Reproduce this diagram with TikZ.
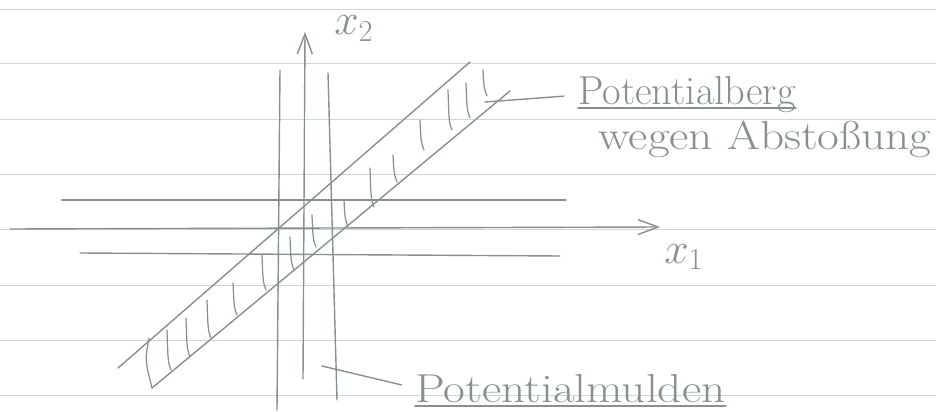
\documentclass[tikz,border=0pt]{standalone}
\usepackage{tikz}
\usetikzlibrary{positioning,arrows.meta}
\definecolor{pencil}{HTML}{86918F}
\definecolor{ruled}{HTML}{C9D6E6}
\tikzset{
  stroke/.style ={draw=pencil, line width=0.8pt, line cap=round},
  axis/.style   ={stroke, -{Straight Barb[length=4mm,width=3mm]}},
  hatch/.style  ={draw=pencil, line width=0.7pt, line cap=round},
  % pointer from the sketch to a label
  pointer/.style={stroke, shorten >=2.8mm},
  hand/.style   ={text=pencil, inner sep=0pt, font=\fontsize{23}{27}\selectfont},
  axlabel/.style={text=pencil, inner sep=0pt, anchor=base west,
                  font=\fontsize{24}{28}\selectfont},
  paperline/.style={draw=ruled, line width=0.5pt},
}
\begin{document}
\begin{tikzpicture}[x=0.2mm,y=-0.2mm]
\useasboundingbox (0,0) rectangle (936,412);
\foreach \y in {9,63,119,174,229,285,340,395}
  {\draw[paperline] (0,\y) -- (936,\y);}
% axes
\coordinate (o1) at (10,229);  \coordinate (e1) at (660,227);
\coordinate (o2) at (303,379); \coordinate (e2) at (305,32);
\draw[axis] (o1) -- (e1);
\draw[axis] (o2) -- (e2);
\node[axlabel] (lx1) at (664,263) {$x_1$};
\node[axlabel] (lx2) at (334,35)  {$x_2$};
% valleys along the axes
\coordinate (h1a) at (62,200);  \coordinate (h1b) at (566,200);
\coordinate (h2a) at (80,253);  \coordinate (h2b) at (560,256);
\coordinate (v1a) at (280,70);  \coordinate (v1b) at (277,410);
\coordinate (v2a) at (328,73);  \coordinate (v2b) at (337,400);
\draw[stroke] (h1a) -- (h1b);
\draw[stroke] (h2a) -- (h2b);
\draw[stroke] (v1a) -- (v1b);
\draw[stroke] (v2a) -- (v2b);
% ridge along the diagonal
\coordinate (ua) at (118,368); \coordinate (ub) at (470,62);
\coordinate (la) at (152,388); \coordinate (lb) at (510,91);
\draw[stroke] (ua) -- (ub);
\draw[stroke] (la) -- (lb);
\draw[hatch] (149,338) .. controls (145,360) .. (la);
\foreach \x/\a/\b in {168/330/370, 187/318/357, 208/300/338, 234/283/315,
    263/255/290, 291/237/270, 313/215/247, 345/200/227, 371/168/207,
    394/155/182, 421/120/150, 449/90/130, 467/83/118, 484/70/96}
  {\draw[hatch] (\x-1,\a) .. controls (\x,\b-8) .. (\x+3,\b);}
% labels
\node[hand,anchor=base west] (berg) at (578,105) {Potentialberg};
\node[hand,anchor=base west,xscale=1.17] (abst) at (598,150) {wegen Abstoßung};
\node[hand,anchor=base west,xscale=1.17] (mulden) at (415,402) {Potentialmulden};
\draw[stroke] ([yshift=-0.6mm]berg.base west) -- ([yshift=-0.6mm]berg.base east);
\draw[stroke] ([yshift=-0.8mm]mulden.base west) -- ([yshift=-0.8mm]mulden.base east);
\coordinate (bergtip) at (485,102);
\coordinate (muldtip) at (322,366);
\draw[pointer] (bergtip) -- (berg.west);
\draw[pointer] (muldtip) -- (mulden.west);
\end{tikzpicture}
\end{document}
